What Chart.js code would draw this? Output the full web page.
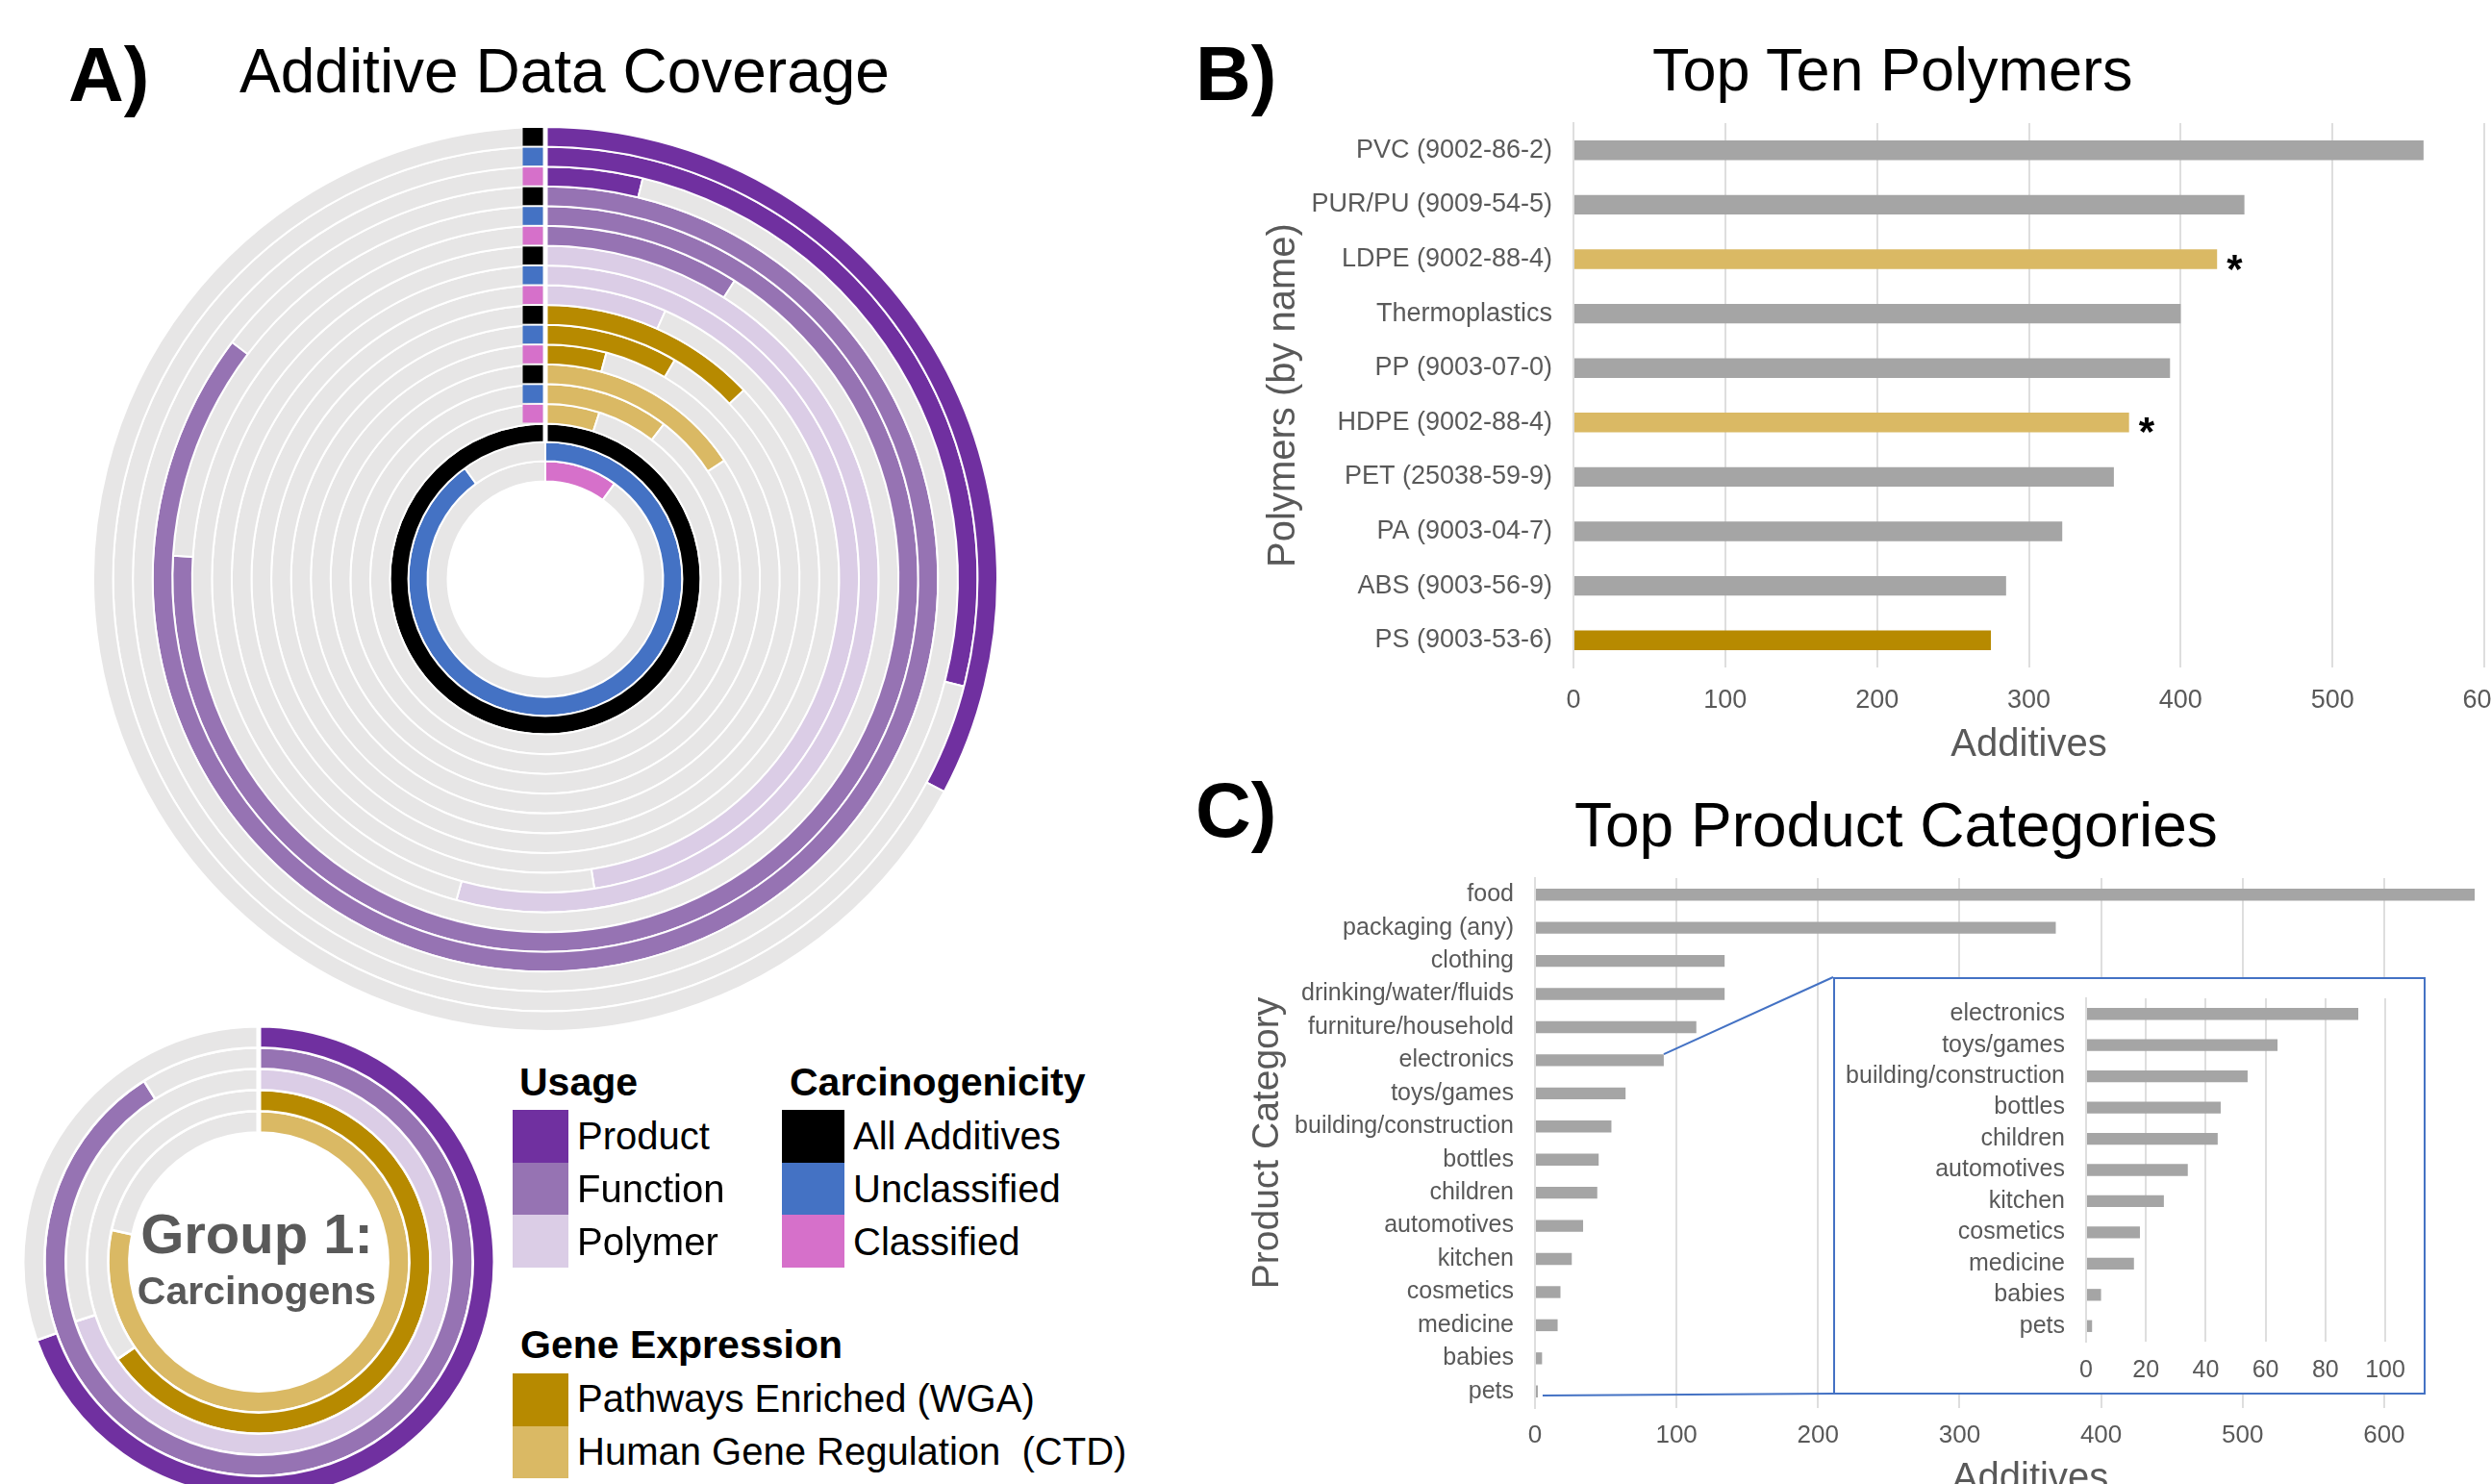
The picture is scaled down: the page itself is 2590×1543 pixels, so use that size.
<!DOCTYPE html>
<html>
<head>
<meta charset="utf-8">
<script src="https://cdn.jsdelivr.net/npm/chart.js@4.4.1/dist/chart.umd.min.js"></script>
<style>
    body {
        margin: 0;
        width: 2590px;
        height: 1543px;
        overflow: hidden;
        position: relative;
        background: #fff;
        font-family: "Liberation Sans", Arial, sans-serif;
    }
    canvas, .txt, .swatch, .inset-box {
        position: absolute;
    }
    .txt {
        white-space: pre;
        line-height: 1;
        color: #000;
    }
    .inset-box {
        border: 2px solid #4472C4;
        background: #fff;
        box-sizing: border-box;
    }
</style>
</head>
<body>
<script>
// ---- Panel A: additive data coverage (share of all additives) ----
const ringGroups = ['Product', 'Function', 'Polymer', 'Pathways Enriched (WGA)', 'Human Gene Regulation  (CTD)'];
const allShare = [0.328, 0.853, 0.543, 0.129, 0.157];
const unclassifiedShare = [0.29, 0.76, 0.475, 0.085, 0.104];
const classifiedShare = [0.038, 0.09, 0.067, 0.042, 0.05];
const carcLabels = ['All Additives', 'Unclassified', 'Classified'];
const carcShare = [1, 0.9, 0.1];
const group1Share = [0.696, 0.91, 0.70, 0.654, 0.784];

// ---- Panel B: top ten polymers ----
const polymerNames = ['PVC (9002-86-2)', 'PUR/PU (9009-54-5)', 'LDPE (9002-88-4)', 'Thermoplastics', 'PP (9003-07-0)',
    'HDPE (9002-88-4)', 'PET (25038-59-9)', 'PA (9003-04-7)', 'ABS (9003-56-9)', 'PS (9003-53-6)'];
const polymerAdditives = [560, 442, 424, 400, 393, 366, 356, 322, 285, 275];
const polymerAsterisk = [false, false, true, false, false, true, false, false, false, false];

// ---- Panel C: top product categories ----
const productCategories = ['food', 'packaging (any)', 'clothing', 'drinking/water/fluids', 'furniture/household',
    'electronics', 'toys/games', 'building/construction', 'bottles', 'children', 'automotives', 'kitchen',
    'cosmetics', 'medicine', 'babies', 'pets'];
const productAdditives = [664, 368, 134, 134, 114, 91, 64, 54, 45, 44, 34, 26, 18, 16, 5, 2];
const insetFrom = 5; // inset zooms in from "electronics" down

// colours
const ringColors = ['#7030A0', '#9673B3', '#DBCDE6', '#B78A00', '#DAB964'];
const carcColors = ['#000000', '#4472C4', '#D670CA'];
const RING_GREY = '#E7E6E6';
const BAR_GREY = '#A5A5A5';
const GRID = '#DEDEDE';
const LABEL = '#595959';
const polymerColors = ['', '', ringColors[4], '', '', ringColors[4], '', '', '', ringColors[3]].map((c) => c || BAR_GREY);

Chart.defaults.font.family = '"Liberation Sans", Arial, sans-serif';

const makeCanvas = (left, top, w, h) => {
    const c = document.createElement('canvas');
    c.width = w;
    c.height = h;
    c.style.left = left + 'px';
    c.style.top = top + 'px';
    c.style.width = w + 'px';
    c.style.height = h + 'px';
    document.body.appendChild(c);
    return c;
};

// place text by its baseline (line-height 1 with Liberation Sans metrics)
const addText = (text, left, baseline, size, bold = false, color = '#000', center = false) => {
    const d = document.createElement('div');
    d.className = 'txt';
    d.textContent = text;
    d.style.fontSize = size + 'px';
    d.style.fontWeight = bold ? 'bold' : 'normal';
    d.style.color = color;
    d.style.top = (baseline - 0.8465 * size) + 'px';
    if (center) {
        d.style.left = (left - 300) + 'px';
        d.style.width = '600px';
        d.style.textAlign = 'center';
    } else {
        d.style.left = left + 'px';
    }
    document.body.appendChild(d);
};

const addSwatch = (left, top, w, h, color) => {
    const s = document.createElement('div');
    s.className = 'swatch';
    s.style.cssText += `left:${left}px;top:${top}px;width:${w}px;height:${h}px;background:${color};`;
    document.body.appendChild(s);
};

// white cut at 12 o'clock plus the small start squares
const ringStart = {
    id: 'ringStart',
    afterDatasetsDraw(chart, args, opts) {
        const ctx = chart.ctx;
        const outer = chart.getDatasetMeta(0).data[0];
        const last = chart.getDatasetMeta(opts.gapTo).data[0];
        ctx.save();
        ctx.fillStyle = '#fff';
        ctx.fillRect(outer.x - 2.5, outer.y - outer.outerRadius - 2, 5, outer.outerRadius - last.innerRadius + 2);
        chart.data.datasets.forEach((ds, i) => {
            if (!ds.markerColor) return;
            const arc = chart.getDatasetMeta(i).data[0];
            ctx.fillStyle = ds.markerColor;
            ctx.fillRect(arc.x - 23.5, arc.y - arc.outerRadius + 1, 21, arc.outerRadius - arc.innerRadius - 2);
        });
        ctx.restore();
    },
};

const ringOptions = (cutout, gapTo) => ({
    responsive: false,
    animation: false,
    devicePixelRatio: 1,
    events: [],
    cutout,
    layout: { padding: 0 },
    plugins: {
        legend: { display: false },
        tooltip: { enabled: false },
        ringStart: { gapTo },
    },
});

// main coverage rings: per usage group -> all / unclassified / classified
const mainRings = [];
ringGroups.forEach((group, i) => {
    [allShare[i], unclassifiedShare[i], classifiedShare[i]].forEach((v, k) => {
        mainRings.push({
            label: group + ' / ' + carcLabels[k],
            data: [v, 1 - v],
            backgroundColor: [ringColors[i], RING_GREY],
            borderColor: '#fff',
            borderWidth: 2,
            weight: 1,
            markerColor: carcColors[k],
        });
    });
});
const innerWeights = [0.93, 0.97, 1.02];
carcShare.forEach((v, k) => {
    mainRings.push({
        label: carcLabels[k],
        data: [v, 1 - v],
        backgroundColor: [carcColors[k], RING_GREY],
        borderColor: '#fff',
        borderWidth: 2,
        weight: innerWeights[k],
    });
});

new Chart(makeCanvas(96, 131, 942, 942), {
    type: 'doughnut',
    data: { labels: ['covered', 'not covered'], datasets: mainRings },
    options: ringOptions('21.6%', ringGroups.length * 3),
    plugins: [ringStart],
});

// Group 1 carcinogens rings
const groupRings = ringGroups.map((group, i) => ({
    label: group,
    data: [group1Share[i], 1 - group1Share[i]],
    backgroundColor: [ringColors[i], RING_GREY],
    borderColor: '#fff',
    borderWidth: 2.5,
}));
new Chart(makeCanvas(23, 1066, 492, 492), {
    type: 'doughnut',
    data: { labels: ['covered', 'not covered'], datasets: groupRings },
    options: ringOptions('55%', ringGroups.length - 1),
    plugins: [ringStart],
});

// ---- bar charts ----
const asteriskMarks = {
    id: 'asteriskMarks',
    afterDatasetsDraw(chart) {
        const ctx = chart.ctx;
        ctx.save();
        ctx.font = 'bold 42px "Liberation Sans", Arial, sans-serif';
        ctx.fillStyle = '#000';
        ctx.textAlign = 'left';
        ctx.textBaseline = 'alphabetic';
        chart.getDatasetMeta(0).data.forEach((bar, i) => {
            if (polymerAsterisk[i]) ctx.fillText('*', bar.x + 10, bar.y + 24);
        });
        ctx.restore();
    },
};

const barChart = (canvas, labels, values, colors, cfg) => new Chart(canvas, {
    type: 'bar',
    data: {
        labels,
        datasets: [{
            data: values,
            backgroundColor: colors,
            barPercentage: cfg.barPct,
            categoryPercentage: 1,
        }],
    },
    options: {
        indexAxis: 'y',
        responsive: false,
        animation: false,
        devicePixelRatio: 1,
        events: [],
        layout: { padding: cfg.padding },
        plugins: { legend: { display: false }, tooltip: { enabled: false } },
        scales: {
            x: {
                min: 0,
                max: cfg.max,
                ticks: {
                    stepSize: cfg.step,
                    includeBounds: false,
                    autoSkip: false,
                    maxRotation: 0,
                    color: LABEL,
                    font: { size: cfg.xFont },
                    padding: cfg.xPad,
                },
                grid: { color: GRID, lineWidth: 2, drawTicks: false },
                border: { display: false },
                title: {
                    display: !!cfg.xTitle,
                    text: cfg.xTitle,
                    color: LABEL,
                    font: { size: 40 },
                    padding: { top: 0, bottom: cfg.xTitlePad },
                },
                afterFit: (s) => {
                    s.height = cfg.xHeight;
                    s.paddingLeft = 0;
                    s.paddingRight = 0;
                },
            },
            y: {
                ticks: { color: LABEL, font: { size: cfg.yFont }, padding: 22, autoSkip: false },
                grid: { display: false, drawTicks: false },
                border: { display: true, color: GRID, width: 2 },
                title: {
                    display: !!cfg.yTitle,
                    text: cfg.yTitle,
                    color: LABEL,
                    font: { size: cfg.yTitleFont },
                    padding: { top: 4, bottom: 0 },
                },
                afterFit: (s) => {
                    s.width = cfg.yWidth;
                    s.paddingTop = 0;
                    s.paddingBottom = 0;
                },
            },
        },
    },
    plugins: cfg.plugins || [],
});

// Panel B
barChart(makeCanvas(1240, 100, 1350, 700), polymerNames, polymerAdditives, polymerColors, {
    barPct: 0.36, max: 600, step: 100, xFont: 27, yFont: 27, xPad: 18, xHeight: 106,
    xTitle: 'Additives', xTitlePad: 1, yTitle: 'Polymers (by name)', yTitleFont: 40, yWidth: 329,
    padding: { left: 67, top: 28, right: 7, bottom: 0 },
    plugins: [asteriskMarks],
});

// Panel C, with the zoom box drawn over it (axis runs on past the page edge)
const C_LEFT = 1240, C_TOP = 870;
const INSET = { left: 1906, top: 1016, width: 616, height: 434 };

const insetLinks = {
    id: 'insetLinks',
    afterDatasetsDraw(chart) {
        const bars = chart.getDatasetMeta(0).data;
        const first = bars[insetFrom];
        const last = bars[bars.length - 1];
        const boxLeft = INSET.left - C_LEFT;
        const boxTop = INSET.top - C_TOP;
        const boxBottom = INSET.top + INSET.height - C_TOP - 1;
        const ctx = chart.ctx;
        ctx.save();
        ctx.strokeStyle = '#4472C4';
        ctx.lineWidth = 2;
        ctx.beginPath();
        ctx.moveTo(first.x, first.y - first.height / 2);
        ctx.lineTo(boxLeft, boxTop);
        ctx.moveTo(last.x + 5, last.y + last.height / 2 - 2);
        ctx.lineTo(boxLeft, boxBottom);
        ctx.stroke();
        ctx.restore();
    },
};

barChart(makeCanvas(C_LEFT, C_TOP, 1394, 720), productCategories, productAdditives, BAR_GREY, {
    barPct: 0.36, max: 700, step: 100, xFont: 26, yFont: 25, xPad: 13, xHeight: 126,
    xTitle: 'Additives', xTitlePad: 28, yTitle: 'Product Category', yTitleFont: 39, yWidth: 305,
    padding: { left: 51, top: 43, right: 8, bottom: 0 },
    plugins: [insetLinks],
});

const box = document.createElement('div');
box.className = 'inset-box';
box.style.cssText += `left:${INSET.left}px;top:${INSET.top}px;width:${INSET.width}px;height:${INSET.height}px;`;
document.body.appendChild(box);

barChart(makeCanvas(INSET.left + 2, INSET.top + 2, INSET.width - 4, INSET.height - 4),
    productCategories.slice(insetFrom), productAdditives.slice(insetFrom), BAR_GREY, {
        barPct: 0.38, max: 100, step: 20, xFont: 25, yFont: 25, xPad: 15, xHeight: 53,
        xTitle: '', xTitlePad: 0, yTitle: '', yTitleFont: 40, yWidth: 261,
        padding: { left: 0, top: 20, right: 40, bottom: 0 },
    });

// ---- headings ----
addText('A)', 71, 106, 80, true);
addText('Additive Data Coverage', 249, 96, 64);
addText('B)', 1243, 105, 80, true);
addText('Top Ten Polymers', 1718, 94.5, 63);
addText('C)', 1243, 871, 80, true);
addText('Top Product Categories', 1637, 880, 64);

// centre label of the small rings
addText('Group 1:', 267, 1303, 58, true, LABEL, true);
addText('Carcinogens', 267, 1357, 41, true, LABEL, true);

// ---- legend ----
addText('Usage', 540, 1140, 41, true);
addText('Carcinogenicity', 821, 1140, 41, true);
ringGroups.slice(0, 3).forEach((name, i) => {
    addSwatch(533, 1154 + i * 54.7, 58, 54.7, ringColors[i]);
    addText(name, 600, 1195 + i * 55, 40);
});
carcLabels.forEach((name, i) => {
    addSwatch(813, 1154 + i * 54.7, 65, 54.7, carcColors[i]);
    addText(name, 887, 1195 + i * 55, 40);
});
addText('Gene Expression', 541, 1413, 41, true);
ringGroups.slice(3).forEach((name, i) => {
    addSwatch(533, 1428 + i * 54.5, 58, 54.5, ringColors[3 + i]);
    addText(name, 600, 1468 + i * 55, 40);
});
</script>
</body>
</html>
